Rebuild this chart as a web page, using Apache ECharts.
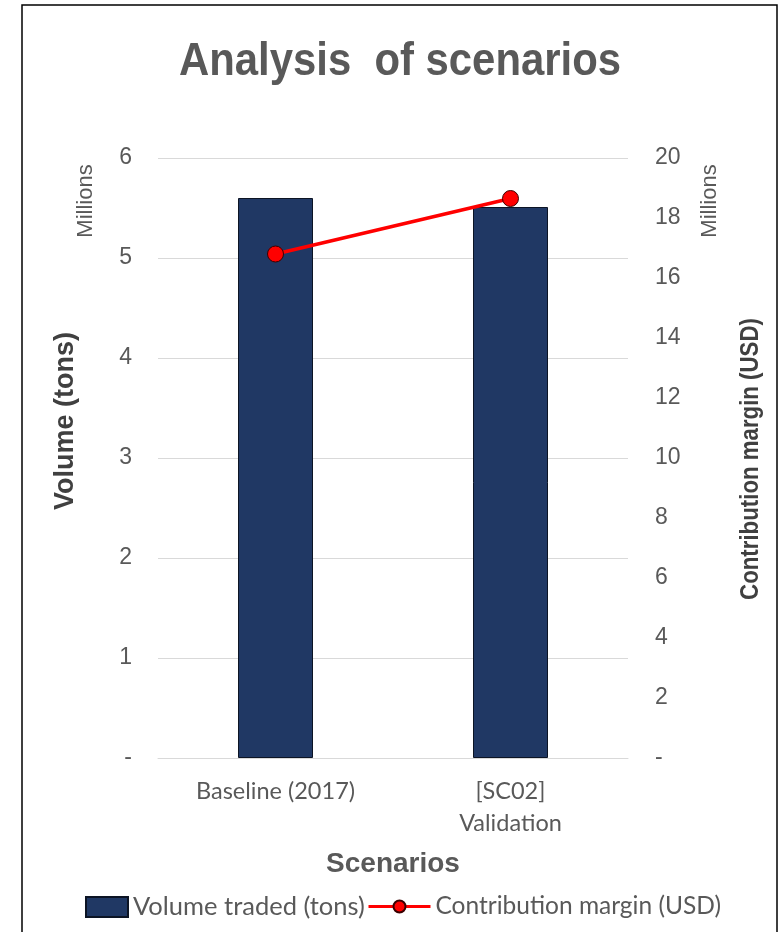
<!DOCTYPE html>
<html>
<head>
<meta charset="utf-8">
<script src="https://cdn.jsdelivr.net/npm/echarts@6/dist/echarts.min.js"></script>
<style>
  html, body { margin: 0; padding: 0; background: #fff; }
  #container { width: 782px; height: 932px; }
</style>
</head>
<body>
<div id="container"></div>
<script>
// chart data
const categories = ['Baseline (2017)', '[SC02]\nValidation'];
const volumeTons = [5600000, 5510000];
const marginUsd = [16800000, 18650000];

var dom = document.getElementById("container");
var myChart = echarts.init(dom);

var gris = '#595959';
var fuenteNum = 'Liberation Sans, Arial, sans-serif';
var fuenteTxt = 'Lato, Open Sans, sans-serif';

function millones(v) {
	return v === 0 ? '-' : String(v / 1000000);
}

const option = {
	animation: false,
	grid: {
		left: 158,
		right: 154,
		top: 158,
		bottom: 174
	},
	legend: [
		{
			left: 80,
			top: 889,
			itemWidth: 42,
			itemHeight: 20,
			icon: 'rect',
			textStyle: { fontFamily: fuenteTxt, fontSize: 25.5, color: gris },
			data: ['Volume traded (tons)']
		},
		{
			left: 362,
			top: 889,
			itemWidth: 62,
			itemHeight: 15,
			lineStyle: { width: 3 },
			textStyle: { fontFamily: fuenteTxt, fontSize: 24.5, color: gris },
			data: ['Contribution margin (USD)']
		}
	],
	xAxis: {
		type: 'category',
		data: categories,
		axisLine: { lineStyle: { color: '#d9d9d9', width: 1 } },
		axisTick: { show: false },
		axisLabel: {
			margin: 17,
			fontFamily: fuenteTxt,
			fontSize: 23.5,
			lineHeight: 32,
			color: gris
		},
		name: 'Scenarios',
		nameLocation: 'middle',
		nameGap: 92,
		nameTextStyle: { fontFamily: fuenteNum, fontSize: 28, fontWeight: 'bold', color: gris }
	},
	yAxis: [
		{
			type: 'value',
			min: 0,
			max: 6000000,
			interval: 1000000,
			axisLine: { show: false },
			axisTick: { show: false },
			splitLine: { lineStyle: { color: '#d9d9d9' } },
			axisLabel: {
				margin: 26,
				fontFamily: fuenteNum,
				fontSize: 23,
				color: gris,
				formatter: millones
			}
		},
		{
			type: 'value',
			min: 0,
			max: 20000000,
			interval: 2000000,
			axisLine: { show: false },
			axisTick: { show: false },
			splitLine: { show: false },
			axisLabel: {
				margin: 27,
				fontFamily: fuenteNum,
				fontSize: 23,
				color: gris,
				formatter: millones
			}
		}
	],
	graphic: [
		{
			type: 'rect',
			shape: { x: 22, y: 5, width: 755, height: 940 },
			style: { fill: 'none', stroke: '#000', lineWidth: 1.5 },
			silent: true
		},
		{
			type: 'text', x: 400, y: 62, scaleX: 0.91,
			style: { text: 'Analysis  of scenarios', fontFamily: fuenteNum, fontSize: 46, fontWeight: 'bold', fill: gris, align: 'center', verticalAlign: 'middle' }
		},
		{
			type: 'text', x: 86, y: 201, rotation: Math.PI / 2,
			style: { text: 'Millions', fontFamily: fuenteNum, fontSize: 22, fill: gris, align: 'center', verticalAlign: 'middle' }
		},
		{
			type: 'text', x: 710, y: 201, rotation: Math.PI / 2,
			style: { text: 'Millions', fontFamily: fuenteNum, fontSize: 22, fill: gris, align: 'center', verticalAlign: 'middle' }
		},
		{
			type: 'text', x: 66, y: 421, rotation: Math.PI / 2,
			style: { text: 'Volume (tons)', fontFamily: fuenteNum, fontSize: 27, fontWeight: 'bold', fill: '#404040', align: 'center', verticalAlign: 'middle' }
		},
		{
			type: 'text', x: 751, y: 459, rotation: Math.PI / 2, scaleX: 0.89,
			style: { text: 'Contribution margin (USD)', fontFamily: fuenteNum, fontSize: 25, fontWeight: 'bold', fill: '#404040', align: 'center', verticalAlign: 'middle' }
		}
	],
	series: [
		{
			name: 'Volume traded (tons)',
			type: 'bar',
			yAxisIndex: 0,
			barWidth: 75,
			data: volumeTons,
			itemStyle: { color: '#203864', borderColor: '#0c1424', borderWidth: 1 }
		},
		{
			name: 'Contribution margin (USD)',
			type: 'line',
			yAxisIndex: 1,
			data: marginUsd,
			symbol: 'circle',
			symbolSize: 16,
			lineStyle: { color: '#ff0000', width: 3.5 },
			itemStyle: { color: '#ff0000', borderColor: '#3a0000', borderWidth: 1 }
		}
	]
};

myChart.setOption(option);
</script>
</body>
</html>
